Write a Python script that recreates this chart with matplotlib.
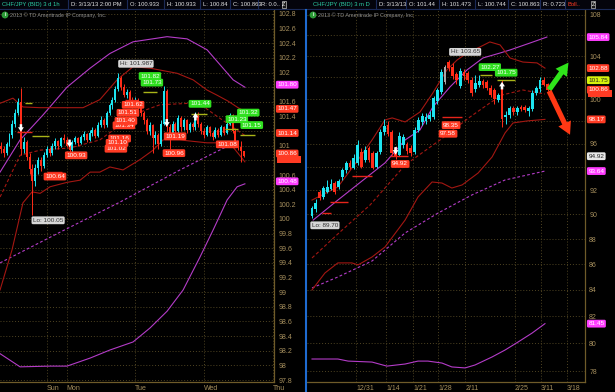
import numpy as np
import matplotlib
matplotlib.use('Agg')
import matplotlib.pyplot as plt
from matplotlib.lines import Line2D
from matplotlib.patches import Rectangle
from matplotlib.ticker import FixedLocator, FuncFormatter, NullLocator

plt.rcParams['font.family'] = ['Liberation Sans', 'DejaVu Sans']

W, H = 615, 392

# colours
UP, DN, DOJI = '#1de4f0', '#ff2c18', '#a8a8a8'
BAND, MAG = '#a31712', '#b43cc8'
GRID, SPINE, TICKC = '#4f4422', '#6f5b29', '#a68f5d'
TAG_RED, TAG_MAG, TAG_GRN, TAG_LIME = '#ff3b24', '#ff3dff', '#2fe01f', '#d6f20c'
LEVEL_YEL, LEVEL_RED = '#a9b418', '#e6241a'

# ---------------- left: 3 days of 1 hour bars (hours from Monday 00:00, weekend removed)
l_hours = list(range(-23, 63))
l_open = [101.00, 100.95, 100.90, 101.02, 101.15, 101.30, 101.45, 101.60, 100.95, 101.05, 100.85, 100.68,
          100.52, 100.70, 100.80, 100.72, 100.88, 100.95, 100.90, 101.00, 101.06, 101.00, 101.10,
          101.08, 101.00, 100.94, 101.05, 101.10, 101.04, 101.12, 101.16, 101.08, 101.18, 101.22, 101.14,
          101.28, 101.35, 101.28, 101.45, 101.55, 101.62, 101.78, 101.92, 101.80, 101.70, 101.74, 101.62,
          101.57, 101.63, 101.55, 101.45, 101.35, 101.20, 101.28, 101.10, 101.15, 101.02, 101.30, 101.75,
          101.25, 101.15, 101.30, 101.20, 101.38, 101.25, 101.35, 101.22, 101.30, 101.25, 101.44, 101.30,
          101.20, 101.15, 101.25, 101.18, 101.12, 101.22, 101.15, 101.25, 101.18, 101.30, 101.42, 101.20,
          101.05, 100.98, 100.93]
l_high = [101.05, 101.00, 101.05, 101.18, 101.35, 101.50, 101.65, 101.79, 101.12, 101.08, 100.90, 100.75,
          100.75, 100.85, 100.84, 100.92, 101.00, 100.98, 101.04, 101.10, 101.08, 101.12, 101.16,
          101.12, 101.04, 101.08, 101.14, 101.12, 101.15, 101.20, 101.18, 101.22, 101.26, 101.24, 101.32,
          101.40, 101.38, 101.48, 101.58, 101.66, 101.82, 101.99, 101.95, 101.84, 101.78, 101.76, 101.66,
          101.66, 101.65, 101.58, 101.48, 101.38, 101.32, 101.30, 101.20, 101.18, 101.35, 101.82, 101.78,
          101.30, 101.34, 101.33, 101.42, 101.40, 101.38, 101.37, 101.33, 101.32, 101.46, 101.46, 101.33,
          101.24, 101.28, 101.27, 101.20, 101.26, 101.24, 101.28, 101.27, 101.33, 101.45, 101.44, 101.23,
          101.08, 101.06, 100.93]
l_low = [100.90, 100.85, 100.88, 101.00, 101.10, 101.25, 101.42, 100.88, 100.90, 100.80, 100.62, 100.05,
         100.45, 100.62, 100.66, 100.70, 100.84, 100.86, 100.88, 100.96, 100.96, 100.98, 101.04,
         100.98, 100.90, 100.92, 101.02, 101.00, 101.02, 101.08, 101.05, 101.06, 101.14, 101.10, 101.12,
         101.25, 101.24, 101.26, 101.42, 101.50, 101.60, 101.75, 101.76, 101.66, 101.65, 101.58, 101.52,
         101.54, 101.50, 101.40, 101.30, 101.16, 101.15, 100.90, 101.02, 100.96, 101.00, 101.28, 101.20,
         100.96, 101.12, 101.16, 101.18, 101.20, 101.22, 101.18, 101.19, 101.22, 101.22, 101.26, 101.16,
         101.10, 101.13, 101.14, 101.08, 101.10, 101.12, 101.13, 101.15, 101.16, 101.28, 101.18, 101.02,
         100.94, 100.78, 100.84]
l_close = [100.95, 100.90, 101.02, 101.15, 101.30, 101.45, 101.60, 100.95, 101.05, 100.85, 100.68, 100.52,
           100.70, 100.80, 100.72, 100.88, 100.95, 100.90, 101.00, 101.06, 101.00, 101.10, 101.08,
           101.00, 100.94, 101.05, 101.10, 101.04, 101.12, 101.16, 101.08, 101.18, 101.22, 101.14, 101.28,
           101.35, 101.28, 101.45, 101.55, 101.62, 101.78, 101.92, 101.80, 101.70, 101.74, 101.62, 101.57,
           101.63, 101.55, 101.45, 101.35, 101.20, 101.28, 101.10, 101.15, 101.02, 101.30, 101.75, 101.25,
           101.15, 101.30, 101.20, 101.38, 101.25, 101.35, 101.22, 101.30, 101.25, 101.44, 101.30, 101.20,
           101.15, 101.25, 101.18, 101.12, 101.22, 101.15, 101.25, 101.18, 101.30, 101.42, 101.20, 101.05,
           100.98, 100.93, 100.86]

# studies: (hour, price) knots
l_bb_up_x = [-23.3, -16.3, -8.3, 0.1, 8.2, 15.1, 23.2, 35.1, 42.1, 49.1, 58.2, 62.3]
l_bb_up = [100.64, 101.08, 101.42, 101.80, 102.06, 102.26, 102.42, 102.49, 102.46, 102.31, 101.90, 101.80]
l_bb_lo_x = [-23.3, -16.3, -5.8, 0.1, 8.2, 15.1, 23.2, 29.1, 35.1, 40.7, 46.6, 51.2, 56.1, 59.6, 62.3]
l_bb_lo = [98.16, 97.98, 97.99, 97.99, 98.10, 98.21, 98.32, 98.51, 98.74, 99.03, 99.48, 99.85, 100.26, 100.44, 100.48]
l_mid_long_x = [-23.3, -2.3, 18.6, 39.6, 60.6]
l_mid_long = [99.40, 99.82, 100.23, 100.67, 101.08]
l_kc_up_x = [-23.3, -18.8, -15.3, -9.3, 0.1, 5.7, 11.6, 17.6, 23.2, 29.1, 38.6, 44.2, 49.1, 52.6, 56.4, 59.9, 62.3]
l_kc_up = [101.58, 101.65, 101.53, 101.52, 101.52, 101.52, 101.63, 101.90, 102.08, 102.06, 101.99, 101.90,
           101.76, 101.69, 101.61, 101.52, 101.47]
l_kc_lo_x = [-23.3, -19.1, -15.3, -12.1, -9.3, -5.8, 0.1, 4.7, 8.2, 11.6, 15.1, 19.7, 25.6, 30.2, 33.7,
             39.6, 44.2, 49.1, 53.6, 58.2, 62.3]
l_kc_lo = [99.03, 99.58, 100.22, 100.37, 100.35, 100.44, 100.50, 100.53, 100.64, 100.64, 100.71, 100.67,
           100.81, 100.94, 101.08, 101.08, 101.06, 101.04, 101.04, 100.98, 100.78]
l_kc_mid_x = [-23.3, -16.3, -9.3, 1.2, 11.6, 18.6, 25.6, 32.6, 43.1, 48.4, 51.9, 57.1, 62.3]
l_kc_mid = [100.30, 100.87, 100.94, 100.97, 101.08, 101.28, 101.46, 101.56, 101.58, 101.52, 101.42, 101.28, 101.14]

l_day_ticks = [-7, 0, 24, 48, 72]
l_day_labels = ['Sun', 'Mon', 'Tue', 'Wed', 'Thu']
l_yticks = list(np.round(np.arange(97.8, 102.81, 0.2), 1))

l_red_tags = [(-4.1, 100.64), (3.3, 100.93), (18.5, 101.16), (17.2, 101.02), (17.6, 101.10),
              (20.0, 101.34), (20.7, 101.40), (21.4, 101.51), (23.2, 101.62),
              (37.5, 100.96), (37.9, 101.19), (56.1, 101.08)]
l_green_tags = [(29.1, 101.82), (29.8, 101.73), (46.6, 101.44), (59.5, 101.23), (63.5, 101.32), (64.7, 101.15)]
l_yel_levels = [(26.7, 31.6, 101.73), (43.5, 49.1, 101.44), (55.3, 59.9, 101.23), (60.6, 65.9, 101.15),
                (-14.6, -12.1, 101.58), (-12.1, -6.2, 101.13)]
l_red_levels = [(-17.4, -12.1, 101.19), (-6.9, -1.6, 100.64), (20.4, 24.6, 101.62)]
l_signals = [(-16, 101.19, 'down'), (1, 100.98, 'down'), (35, 101.26, 'down'), (45, 101.45, 'up')]
l_hi = (24.2, 101.987)
l_lo = (-6.5, 100.05)
l_axis_tags = [(101.80, TAG_MAG), (101.47, TAG_RED), (101.14, TAG_RED), (100.86, TAG_RED), (100.48, TAG_MAG)]
l_hidden_tags = [(100.81, TAG_RED)]   # mostly covered by the 100.86 tag

# ---------------- right: 3 months of daily bars
r_open = [89.85, 90.45, 91.90, 91.45, 91.90, 92.10, 92.60, 92.30, 93.10, 93.70, 94.30, 93.90, 94.30,
          95.30, 94.60, 95.60, 95.20, 94.00, 95.30, 97.00, 97.70, 97.00, 95.60, 95.00, 95.90, 96.00,
          95.60, 95.30, 97.20, 97.90, 98.00, 98.20, 98.40, 99.80, 100.70, 101.60, 103.50, 103.00, 102.30,
          101.20, 102.50, 102.40, 101.80, 100.90, 101.30, 101.70, 101.60, 101.00, 100.80, 99.90, 101.00,
          98.40, 98.60, 99.20, 98.80, 99.30, 99.30, 98.90, 99.10, 100.60, 100.90, 101.80, 101.44]
r_high = [90.70, 91.25, 92.05, 92.40, 92.90, 93.00, 92.80, 93.00, 93.90, 94.50, 94.60, 95.10, 96.30,
          95.60, 95.80, 95.80, 95.40, 95.40, 97.30, 98.20, 98.00, 97.20, 95.80, 97.00, 96.90, 96.20,
          95.90, 97.50, 98.40, 98.70, 98.70, 98.90, 100.30, 101.00, 102.80, 103.20, 103.65, 103.40, 102.50,
          102.90, 102.80, 102.60, 102.00, 102.27, 102.20, 101.90, 101.80, 101.30, 101.00, 100.60, 101.75,
          98.90, 99.40, 99.40, 99.40, 99.50, 99.50, 99.40, 100.80, 101.20, 102.00, 102.00, 101.473]
r_low = [89.70, 90.20, 91.20, 91.30, 91.80, 92.00, 91.70, 92.10, 92.90, 93.50, 93.80, 93.80, 94.20,
         93.90, 94.40, 94.40, 93.80, 93.90, 95.10, 96.80, 96.70, 95.00, 94.70, 94.90, 95.60, 95.10,
         94.90, 95.10, 97.00, 97.70, 97.80, 98.00, 98.20, 99.60, 100.50, 101.40, 102.60, 101.90, 101.40,
         101.00, 101.80, 101.50, 100.30, 100.70, 101.10, 101.00, 100.80, 100.20, 99.60, 99.70, 97.50,
         97.80, 98.30, 98.60, 98.60, 98.90, 98.80, 98.50, 98.90, 100.40, 100.70, 101.20, 100.744]
r_close = [90.55, 90.95, 91.40, 92.20, 92.30, 92.50, 91.90, 92.80, 93.70, 94.30, 94.00, 94.80, 95.90,
           94.00, 95.50, 94.60, 93.90, 95.20, 97.00, 97.60, 96.90, 95.20, 94.92, 96.70, 96.60, 95.40,
           95.20, 97.20, 98.10, 98.50, 98.40, 98.60, 100.10, 100.80, 102.50, 103.00, 102.90, 102.10, 101.80,
           102.60, 102.10, 101.80, 100.60, 101.50, 101.70, 101.30, 101.00, 100.40, 100.00, 100.40, 98.20,
           98.60, 99.20, 98.80, 99.20, 99.10, 99.00, 99.20, 100.60, 101.00, 101.80, 101.30, 100.863]
r_days = list(range(len(r_close)))
r_gray = [35]

r_bb_up_x = [0.3, 6.8, 15.8, 19.2, 24.5, 28.4, 31.8, 36.3, 40.8, 45.0, 49.5, 52.1, 57.4, 61.8]
r_bb_up = [89.54, 91.19, 93.47, 94.34, 96.34, 97.22, 99.29, 101.12, 102.71, 103.84, 104.31, 104.60, 105.27, 105.84]
r_bb_lo_x = [0, 6.8, 9.5, 15.8, 19.7, 24.5, 27.9, 30.5, 34.2, 36.8, 40.3, 42.9, 47.4, 50.8, 54.2, 57.9, 61.3]
r_bb_lo = [78.86, 78.86, 78.71, 78.64, 78.35, 78.50, 78.71, 78.71, 78.57, 78.29, 78.22, 78.43, 79.01,
           79.51, 80.09, 80.75, 81.45]
r_mid_long_x = [0, 6.8, 15.8, 24.5, 33.2, 42.1, 50.8, 61.3]
r_mid_long = [84.15, 85.00, 86.25, 88.49, 90.12, 91.62, 92.88, 93.64]
r_kc_up_x = [0, 6.8, 12.1, 15.8, 19.2, 21.1, 24.5, 28.4, 31.8, 35.5, 38.2, 40.8, 44.2, 46.8, 49.5,
             52.1, 55.5, 59.2, 61.3]
r_kc_up = [91.19, 92.29, 94.59, 96.34, 98.12, 98.30, 97.94, 98.83, 100.57, 102.71, 103.65, 104.31,
           104.89, 105.37, 105.08, 103.84, 103.45, 103.37, 102.88]
r_kc_lo_x = [0, 3.4, 6.8, 10.5, 12.1, 15.8, 19.2, 24.5, 27.9, 31.6, 34.2, 36.8, 39.5, 43.7, 47.4,
             50.8, 52.9, 56.6, 61.3]
r_kc_lo = [84.00, 85.31, 86.10, 86.10, 85.94, 86.57, 87.36, 89.54, 91.45, 92.71, 92.62, 92.20, 92.46,
           93.47, 94.86, 96.96, 97.85, 98.03, 98.17]
r_kc_mid_x = [0, 6.8, 15.3, 24.5, 33.7, 41.6, 46.8, 50.0, 55.5, 61.3]
r_kc_mid = [86.49, 88.41, 90.79, 94.16, 96.34, 98.39, 99.65, 100.38, 100.84, 100.47]

r_date_ticks = [11.6, 19.5, 26.6, 33.2, 40.3, 53.4, 60.3, 67.1]
r_date_labels = ['12/31', '1/14', '1/21', '1/28', '2/11', '2/25', '3/11', '3/18']
r_yticks = list(range(78, 109, 2))

r_red_tags = [(23.2, 94.92), (35.8, 97.58), (36.6, 98.35)]
r_green_tags = [(46.8, 102.27), (51.1, 101.75)]
r_yel_levels = [(44.2, 47.4, 102.27), (48.7, 53.4, 101.75)]
r_red_levels = [(2.6, 5.0, 90.1), (4.7, 9.5, 91.0), (10.5, 15.8, 93.2), (20.5, 25.3, 94.92), (34.2, 39.5, 98.35)]
r_signals = [(22, 95.05, 'down'), (50, 101.6, 'up')]
r_hi = (40.3, 103.65)
r_lo = (3.4, 89.70)
r_axis_tags = [(105.84, TAG_MAG, 'white'), (102.88, TAG_RED, 'white'), (101.75, TAG_LIME, '#222222'),
               (100.86, TAG_RED, 'white'), (98.17, TAG_RED, 'white'),
               (94.92, '#e8e8e8', '#222222'), (93.64, TAG_MAG, 'white'), (81.45, TAG_MAG, 'white')]
r_hidden_tags = [(100.55, TAG_RED)]
target_x, target_up, target_dn = 67.5, 103.4, 96.8

L_PX_PER_UNIT = 73.2      # left price axis, pixels per yen
R_PX_PER_LOG = 1094.0     # right (log) price axis, pixels per ln unit
L_TAG_LIFT = 1.8          # points


def style_axes(ax):
    ax.set_facecolor('black')
    for s in ('left', 'top'):
        ax.spines[s].set_visible(False)
    for s in ('right', 'bottom'):
        ax.spines[s].set_color(SPINE)
        ax.spines[s].set_linewidth(0.9)
    ax.yaxis.tick_right()
    ax.tick_params(axis='both', length=0, labelsize=5, colors=TICKC)
    ax.tick_params(axis='y', pad=3)
    ax.tick_params(axis='x', pad=2)
    ax.grid(True, color=GRID, ls=(0, (1, 2)), lw=0.7)
    ax.set_axisbelow(True)


def candles(ax, x, o, h, l, c, width, min_body, gray=()):
    o, h, l, c = map(np.asarray, (o, h, l, c))
    cols = [DOJI if i in gray else (UP if c[i] >= o[i] else DN) for i in range(len(x))]
    ax.vlines(x, l, h, colors=cols, lw=0.7, zorder=3)
    ax.bar(x, np.maximum(np.abs(c - o), min_body), bottom=np.minimum(o, c), width=width,
           color=cols, lw=0, zorder=4)


def tag(ax, x, y, text, fc, tc='white', dy=0.0):
    ax.annotate(text, (x, y), xytext=(0, dy), textcoords='offset points', ha='center', va='center',
                fontsize=4.6, color=tc, zorder=9, annotation_clip=False,
                bbox=dict(boxstyle='round,pad=0.22', fc=fc, ec='none'))


def axis_tag(ax, y, fc, tc='white', dy=0.0):
    ax.annotate(f'{y:.2f}', (1, y), xycoords=('axes fraction', 'data'), xytext=(2.4, dy),
                textcoords='offset points', ha='left', va='center', fontsize=4.6, color=tc,
                zorder=9, annotation_clip=False,
                bbox=dict(boxstyle='round,pad=0.22', fc=fc, ec='none'))


def hidden_tag(ax, y, fc, log=False):
    # only the lower sliver of this tag shows below its neighbour, so draw just the box
    ax_w = ax.get_position().width * W
    half = 3.4
    if log:
        y0, y1 = y * np.exp(-half / R_PX_PER_LOG), y * np.exp(half / R_PX_PER_LOG)
    else:
        y0, y1 = y - half / L_PX_PER_UNIT, y + half / L_PX_PER_UNIT
    ax.add_patch(Rectangle((1 + 3 / ax_w, y0), 24 / ax_w, y1 - y0, fc=fc, ec='none', zorder=8,
                           clip_on=False, transform=ax.get_yaxis_transform()))


def signal(ax, x, y, way):
    ax.annotate('', (x, y), xytext=(0, 5.5 if way == 'down' else -5.5), textcoords='offset points',
                zorder=8, arrowprops=dict(arrowstyle='simple,head_length=0.55,head_width=0.7,tail_width=0.3',
                                          fc='white', ec='none', mutation_scale=6, shrinkA=0, shrinkB=0))


def studies(ax, up_x, up, lo_x, lo, mid_x, mid, kup_x, kup, klo_x, klo, kmid_x, kmid):
    ax.plot(up_x, up, color=MAG, lw=0.8, zorder=2)
    ax.plot(lo_x, lo, color=MAG, lw=0.8, zorder=2)
    ax.plot(mid_x, mid, color=MAG, lw=0.8, ls=(0, (2.5, 2)), zorder=2)
    ax.plot(kup_x, kup, color=BAND, lw=0.8, zorder=2)
    ax.plot(klo_x, klo, color=BAND, lw=0.8, zorder=2)
    ax.plot(kmid_x, kmid, color=BAND, lw=0.8, ls=(0, (3, 2)), zorder=2)


# price labels covered by the value tags are left blank, as on the platform
l_tag_centres = [v + L_TAG_LIFT * 100 / 72 / L_PX_PER_UNIT for v, _ in l_axis_tags + l_hidden_tags]
l_covered = {t for t in l_yticks if any(abs(t - c) * L_PX_PER_UNIT < 6.0 for c in l_tag_centres)}
r_tag_values = [v for v, _, _ in r_axis_tags] + [v for v, _ in r_hidden_tags]
r_covered = {t for t in r_yticks if any(abs(np.log(t / c)) * R_PX_PER_LOG < 6.0 for c in r_tag_values)}

fig = plt.figure(figsize=(W / 100, H / 100), dpi=100, facecolor='black')
axL = fig.add_axes([0, 10 / H, 274 / W, 373 / H])
axR = fig.add_axes([307 / W, 10 / H, 278 / W, 373 / H])

# ---- left panel
style_axes(axL)
studies(axL, l_bb_up_x, l_bb_up, l_bb_lo_x, l_bb_lo, l_mid_long_x, l_mid_long,
        l_kc_up_x, l_kc_up, l_kc_lo_x, l_kc_lo, l_kc_mid_x, l_kc_mid)
candles(axL, l_hours, l_open, l_high, l_low, l_close, 0.68, 0.012)
for x0, x1, v in l_yel_levels:
    axL.hlines(v, x0, x1, color=LEVEL_YEL, lw=1.0, zorder=5)
for x0, x1, v in l_red_levels:
    axL.hlines(v, x0, x1, color=LEVEL_RED, lw=1.0, zorder=5)
for x, v in l_red_tags:
    tag(axL, x, v, f'{v:.2f}', TAG_RED, dy=-3.2)
for x, v in l_green_tags:
    tag(axL, x, v, f'{v:.2f}', TAG_GRN, dy=7.0)
tag(axL, l_hi[0], l_hi[1], f'Hi: {l_hi[1]:.3f}', '#d6d6d6', '#333333', dy=7.0)
tag(axL, l_lo[0], l_lo[1], f'Lo: {l_lo[1]:.2f}', '#d6d6d6', '#333333', dy=-3.6)
for x, v, way in l_signals:
    signal(axL, x, v, way)
axL.set_xlim(-23.32, 72.48)
axL.set_ylim(97.773, 102.868)
for v, fc in l_hidden_tags:
    hidden_tag(axL, v, fc)
for v, fc in l_axis_tags:
    axis_tag(axL, v, fc, dy=L_TAG_LIFT)
axL.yaxis.set_major_locator(FixedLocator(l_yticks))
axL.yaxis.set_major_formatter(FuncFormatter(lambda v, p: '' if round(v, 1) in l_covered else f'{v:g}'))
axL.set_xticks(l_day_ticks)
axL.set_xticklabels(l_day_labels, ha='left')

# ---- right panel
style_axes(axR)
axR.set_yscale('log')
studies(axR, r_bb_up_x, r_bb_up, r_bb_lo_x, r_bb_lo, r_mid_long_x, r_mid_long,
        r_kc_up_x, r_kc_up, r_kc_lo_x, r_kc_lo, r_kc_mid_x, r_kc_mid)
candles(axR, r_days, r_open, r_high, r_low, r_close, 0.72, 0.08, gray=r_gray)
for x0, x1, v in r_yel_levels:
    axR.hlines(v, x0, x1, color=LEVEL_YEL, lw=1.0, zorder=5)
for x0, x1, v in r_red_levels:
    axR.hlines(v, x0, x1, color=LEVEL_RED, lw=1.0, zorder=5)
for x, v in r_red_tags:
    tag(axR, x, v, f'{v:.2f}', TAG_RED, dy=-5.6)
for x, v in r_green_tags:
    tag(axR, x, v, f'{v:.2f}', TAG_GRN, dy=5.4)
tag(axR, r_hi[0], r_hi[1], f'Hi: {r_hi[1]:.2f}', '#d6d6d6', '#333333', dy=5.8)
tag(axR, r_lo[0], r_lo[1], f'Lo: {r_lo[1]:.2f}', '#d6d6d6', '#333333', dy=-5.2)
for x, v, way in r_signals:
    signal(axR, x, v, way)
axR.annotate('', (target_x, target_up), xytext=(r_days[-1] + 0.4, r_close[-1]), zorder=9,
             arrowprops=dict(arrowstyle='simple,head_length=0.9,head_width=1.0,tail_width=0.38',
                             fc='#2fe41a', ec='none', mutation_scale=10, shrinkA=0, shrinkB=0))
axR.annotate('', (target_x + 0.4, target_dn), xytext=(r_days[-1] + 0.4, r_low[-1]), zorder=9,
             arrowprops=dict(arrowstyle='simple,head_length=0.9,head_width=1.0,tail_width=0.38',
                             fc='#ff3814', ec='none', mutation_scale=10, shrinkA=0, shrinkB=0))
axR.set_xlim(-1.32, 71.84)
axR.set_ylim(77.22, 108.59)
for v, fc in r_hidden_tags:
    hidden_tag(axR, v, fc, log=True)
for v, fc, tc in r_axis_tags:
    axis_tag(axR, v, fc, tc)
axR.yaxis.set_major_locator(FixedLocator(r_yticks))
axR.yaxis.set_minor_locator(NullLocator())
axR.yaxis.set_major_formatter(FuncFormatter(lambda v, p: '' if round(v) in r_covered else f'{v:g}'))
axR.yaxis.set_minor_formatter(FuncFormatter(lambda v, p: ''))
axR.set_xticks(r_date_ticks)
axR.set_xticklabels(r_date_labels, ha='left')

# ---- header strip, copyright lines, separator
fig.add_artist(Rectangle((0, 1 - 9 / H), 1, 9 / H, transform=fig.transFigure, fc='#04040c', ec='none'))
fig.add_artist(Line2D([0, 1], [1 - 9 / H] * 2, transform=fig.transFigure, color='#1b2a58', lw=0.8))
hdr_left = [(2, 'CHF/JPY (BID) 3 d 1h'), (71, 'D: 3/13/13 2:00 PM'), (130, 'O: 100.933'),
            (167, 'H: 100.933'), (203, 'L: 100.84'), (233, 'C: 100.863'), (261, 'R: 0.0..')]
hdr_right = [(313, 'CHF/JPY (BID) 3 m D'), (379, 'D: 3/13/13'), (409, 'O: 101.44'), (442, 'H: 101.473'),
             (478, 'L: 100.744'), (511, 'C: 100.863'), (543, 'R: 0.723'), (568, 'Boll..')]
for fields in (hdr_left, hdr_right):
    for k, (px, s) in enumerate(fields):
        col = '#2ccfa4' if k == 0 else ('#ff3a22' if s.startswith('Boll') else '#e4e4e4')
        fig.text(px / W, 1 - 4.6 / H, s, fontsize=4.2, color=col, va='center', ha='left')
        if k > 0:
            fig.add_artist(Line2D([(px - 3) / W] * 2, [1 - 9 / H, 1], transform=fig.transFigure,
                                  color='#1b2a58', lw=0.8))
for px in (284, 593):
    fig.text(px / W, 1 - 4.6 / H, 'Z', fontsize=4.0, color='white', ha='center', va='center',
             bbox=dict(boxstyle='square,pad=0.15', fc='#1a1a1a', ec='#bdbdbd', lw=0.5))
for px in (5, 313):
    fig.text(px / W, 1 - 15 / H, 'i', fontsize=3.4, color='white', ha='center', va='center',
             fontweight='bold', bbox=dict(boxstyle='circle,pad=0.2', fc='#2c9a36', ec='none'))
    fig.text((px + 5) / W, 1 - 15 / H, '2013 \u00a9 TD Ameritrade IP Company, Inc.', fontsize=3.9,
             color='#8c8c8c', va='center', ha='left')
fig.add_artist(Line2D([306 / W] * 2, [0, 1 - 10 / H], transform=fig.transFigure, color='#1f6bd0', lw=1.5))

fig.savefig('out.png', dpi=100, facecolor='black')
